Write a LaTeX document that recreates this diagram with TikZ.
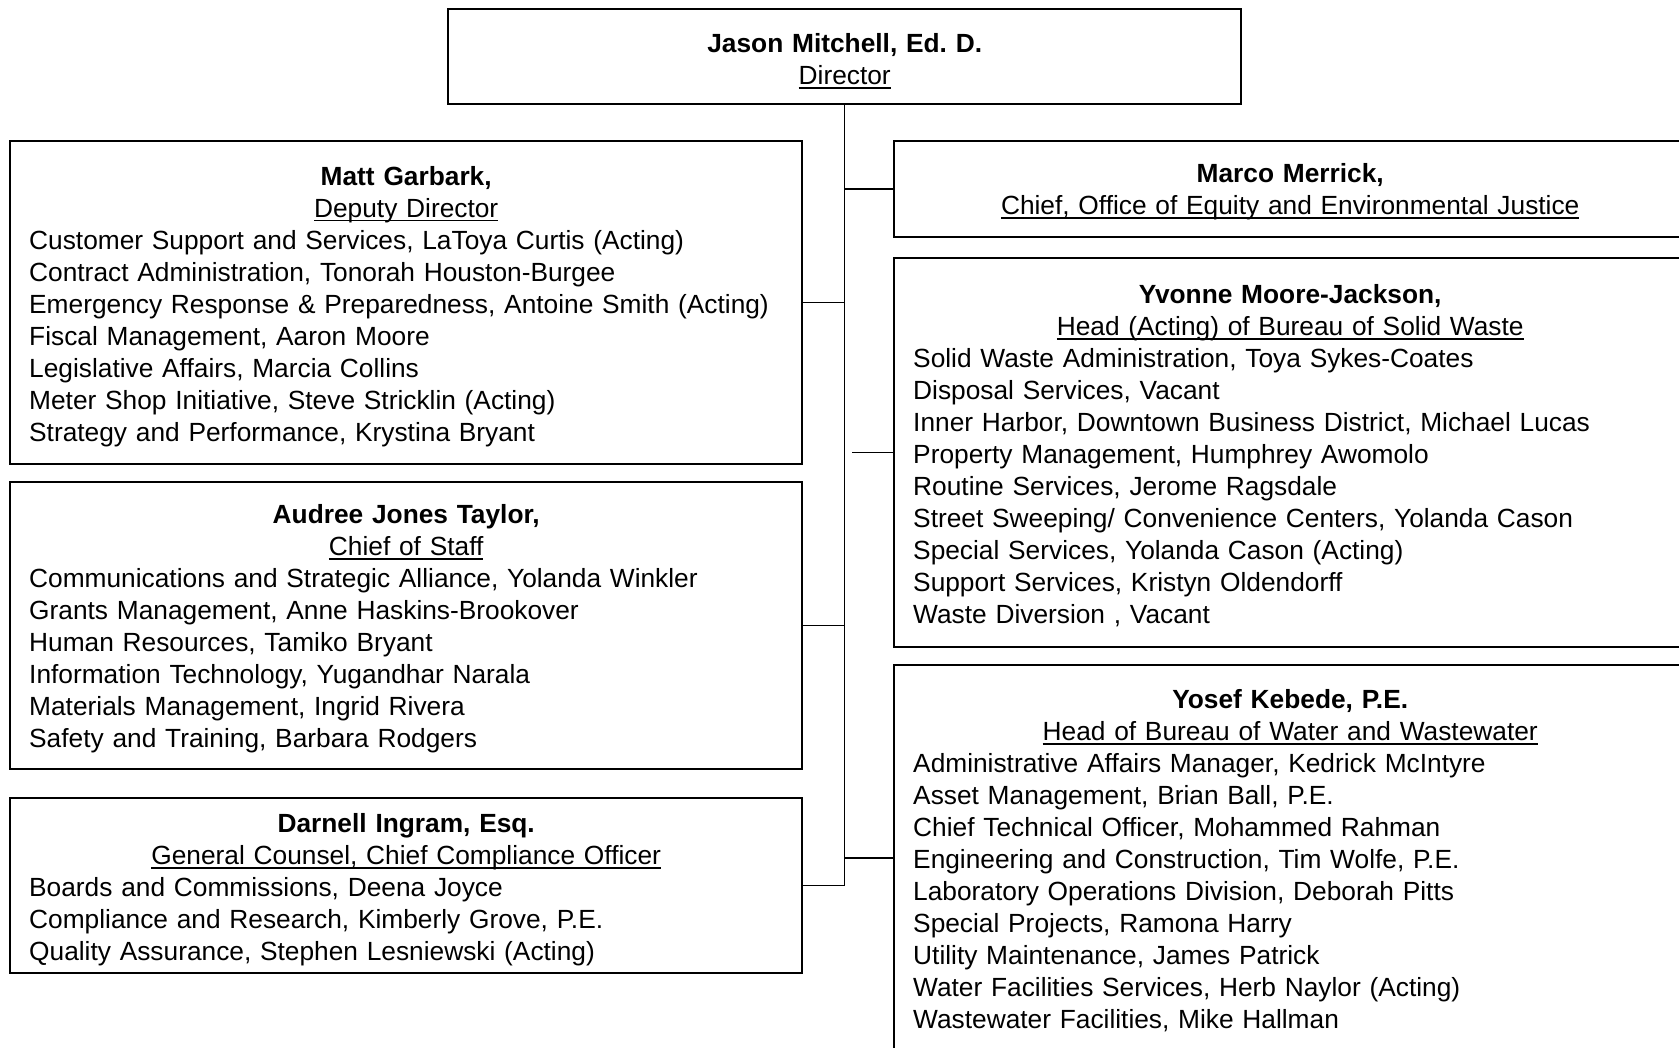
\documentclass[tikz,border=0pt]{standalone}
\usepackage{fontspec}
\setmainfont{Liberation Sans}
\usetikzlibrary{positioning,calc}
\frenchspacing
\newsavebox{\rolebox}
\newcommand{\role}[1]{\leavevmode\sbox{\rolebox}{#1}\rlap{\rule[-4pt]{\wd\rolebox}{1.9pt}}\usebox{\rolebox}}

\begin{document}
\begin{tikzpicture}[x=1pt, y=-1pt,
  unit/.style={draw, line width=2pt, rectangle, inner sep=0pt, outer sep=0pt, anchor=north west, minimum width=792pt},
  txt/.style={inner sep=0pt, anchor=base west, text width=754pt, font=\fontsize{26.3}{32}\selectfont},
  link/.style={line width=1.2pt}
]
\useasboundingbox (0,0) rectangle (1679,1048);
\clip (0,0) rectangle (1679,1048);

% director
\node[unit, minimum width=793pt, minimum height=95pt] (dir) at (448,9) {};
\node[txt, text width=755pt] (dirTxt) at ([shift={(19,44)}]dir.north west) {\centering\textbf{Jason Mitchell, Ed. D.}\\\role{Director}\par};

% left column
\node[unit, minimum height=323pt] (deputy) at (10,141) {};
\node[txt] (deputyTxt) at ([shift={(19,44.5)}]deputy.north west) {\centering\textbf{Matt Garbark,}\\\role{Deputy Director}\par
  \raggedright Customer Support and Services, LaToya Curtis (Acting)\\
  Contract Administration, Tonorah Houston-Burgee\\
  Emergency Response \& Preparedness, Antoine Smith (Acting)\\
  Fiscal Management, Aaron Moore\\
  Legislative Affairs, Marcia Collins\\
  Meter Shop Initiative, Steve Stricklin (Acting)\\
  Strategy and Performance, Krystina Bryant};

\node[unit, minimum height=287pt] (staff) at (10,482) {};
\node[txt] (staffTxt) at ([shift={(19,41.5)}]staff.north west) {\centering\textbf{Audree Jones Taylor,}\\\role{Chief of Staff}\par
  \raggedright Communications and Strategic Alliance, Yolanda Winkler\\
  Grants Management, Anne Haskins-Brookover\\
  Human Resources, Tamiko Bryant\\
  Information Technology, Yugandhar Narala\\
  Materials Management, Ingrid Rivera\\
  Safety and Training, Barbara Rodgers};

\node[unit, minimum height=175pt] (counsel) at (10,798) {};
\node[txt] (counselTxt) at ([shift={(19,34.5)}]counsel.north west) {\centering\textbf{Darnell Ingram, Esq.}\\\role{General Counsel, Chief Compliance Officer}\par
  \raggedright Boards and Commissions, Deena Joyce\\
  Compliance and Research, Kimberly Grove, P.E.\\
  Quality Assurance, Stephen Lesniewski (Acting)};

% right column
\node[unit, minimum height=96pt] (equity) at (894,141) {};
\node[txt] (equityTxt) at ([shift={(19,42)}]equity.north west) {\centering\textbf{Marco Merrick,}\\\role{Chief, Office of Equity and Environmental Justice}\par};

\node[unit, minimum height=389pt] (solid) at (894,258) {};
\node[txt] (solidTxt) at ([shift={(19,46)}]solid.north west) {\centering\textbf{Yvonne Moore-Jackson,}\\\role{Head (Acting) of Bureau of Solid Waste}\par
  \raggedright Solid Waste Administration, Toya Sykes-Coates\\
  Disposal Services, Vacant\\
  Inner Harbor, Downtown Business District, Michael Lucas\\
  Property Management, Humphrey Awomolo\\
  Routine Services, Jerome Ragsdale\\
  Street Sweeping/ Convenience Centers, Yolanda Cason\\
  Special Services, Yolanda Cason (Acting)\\
  Support Services, Kristyn Oldendorff\\
  Waste Diversion , Vacant};

\node[unit, minimum height=386pt] (water) at (894,665) {};
\node[txt] (waterTxt) at ([shift={(19,43.5)}]water.north west) {\centering\textbf{Yosef Kebede, P.E.}\\\role{Head of Bureau of Water and Wastewater}\par
  \raggedright Administrative Affairs Manager, Kedrick McIntyre\\
  Asset Management, Brian Ball, P.E.\\
  Chief Technical Officer, Mohammed Rahman\\
  Engineering and Construction, Tim Wolfe, P.E.\\
  Laboratory Operations Division, Deborah Pitts\\
  Special Projects, Ramona Harry\\
  Utility Maintenance, James Patrick\\
  Water Facilities Services, Herb Naylor (Acting)\\
  Wastewater Facilities, Mike Hallman};

% connectors
\coordinate (solidStub) at ($(dir.south |- solid.west)+(7,0)$);
\draw[link] (dir.south) -- (dir.south |- counsel.east) -- (counsel.east);
\draw[link] (deputy.east) -- (deputy.east -| dir.south);
\draw[link] (staff.east) -- (staff.east -| dir.south);
\draw[link] (equity.west) -- (equity.west -| dir.south);
\draw[link] (solid.west) -- (solidStub);
\draw[link] (water.west) -- (water.west -| dir.south);

\end{tikzpicture}
\end{document}
